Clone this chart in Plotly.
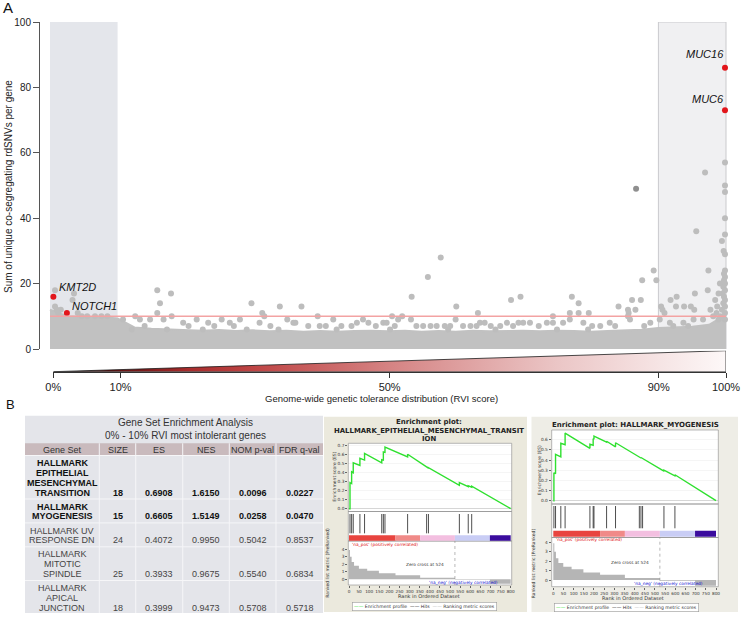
import plotly.graph_objects as go

W, H = 745, 618
BASE = "Liberation Sans, Arial, Helvetica, sans-serif"
JAVA = "DejaVu Sans, Verdana, sans-serif"

# ---------------- Panel A data ----------------
band_rvi = [0, 2.5, 5, 7.5, 10, 12.5, 15, 17.5, 20, 22.5, 25, 27.5, 30, 32.5, 35, 37.5, 40,
            42.5, 45, 47.5, 50, 52.5, 55, 57.5, 60, 62.5, 65, 67.5, 70, 72.5, 75, 77.5, 80,
            82.5, 85, 87.5, 90, 92.5, 95, 97.5, 100]
band_top = [12, 10, 9.8, 9.8, 9.3, 6.6, 6.2, 6.0, 5.9, 5.6, 5.8, 5.5, 5.7, 5.4, 5.6, 5.3, 5.5,
            5.3, 5.5, 5.6, 5.4, 5.6, 5.3, 5.5, 5.3, 5.6, 5.4, 5.5, 5.6, 5.4, 5.6, 5.5, 5.3,
            5.5, 5.7, 5.9, 6.4, 6.6, 6.8, 7.4, 10.5]

gene_rvi = [0.74, 3.55, 3.33, 0.74, 0.99, 1.6, 1.2, 4.1, 4.7, 6.66, 8.5, 5.5, 7.6,
            10.8, 12.6, 13.3, 14.8, 15.87, 17.9, 16.27, 15.87, 18.0, 16.8, 19.7, 21.7, 23.4, 25.4, 26.6, 28.1,
            29.8, 34.0, 37.2, 31.4, 31.7, 39.6, 50.6, 52.1, 53.5, 55.9, 57.8, 60.1, 60.0, 63.3, 68.2, 69.6,
            53.4, 51.5, 35.1, 41.9, 46.3,
            31.0, 36.0, 36.3, 38.2, 39.9, 44.6, 45.4, 47.1, 49.3, 49.8, 54.2, 55.2, 57.2, 59.2, 61.1, 63.1,
            63.6, 64.3, 66.6, 67.6, 68.5, 69.3, 70.0, 71.0, 73.5,
            74.4, 76.9, 77.2, 78.2, 78.2, 79.7, 84.1, 85.5, 85.6, 86.1, 86.6, 87.4, 87.6, 89.3, 89.7, 90.4,
            90.6, 90.9, 91.8, 92.6, 92.7, 93.8, 94.8, 95.3, 95.4, 95.6, 96.9, 97.3, 97.4, 97.7, 98.7, 99.4, 99.65,
            74.4, 75.9, 76.9, 78.9, 81.4, 82.8, 85.5, 85.8, 88.8, 90.2, 91.7, 93.7, 95.2, 96.6, 98.1, 98.9,
            99.85, 99.85, 99.85, 99.85, 99.85, 99.85, 99.85, 99.7, 99.85, 99.7, 99.85, 99.6, 99.85, 99.5,
            99.7, 99.85, 99.6, 99.85, 99.4, 99.85, 99.2, 99.85, 98.4, 98.9, 99.1, 98.6,
            14.0, 20.5, 24.3, 27.2, 32.6, 40.8, 43.1, 48.2, 51.0, 56.3, 58.4, 62.2, 65.2, 72.3, 80.2, 83.6,
            12.1, 17.3, 22.6, 29.1, 33.8, 42.4, 50.3, 58.9, 65.9, 75.0, 79.6, 87.9, 92.2, 94.4]
gene_count = [18, 17, 15, 13, 12, 12, 11, 11, 10, 10, 10, 10, 10,
              9, 10, 9, 9, 18, 17, 14, 11, 10, 9, 8, 9, 8, 9, 8, 9,
              14, 13, 13, 11, 10, 10, 10, 10, 16, 22, 28, 13, 9, 11, 15, 16,
              9, 9, 9, 9, 9,
              8, 8, 8, 7, 7, 7, 8, 8, 8, 8, 7, 7, 7, 7, 7, 7,
              8, 8, 7, 8, 7, 8, 8, 8, 8,
              10, 11, 16, 14, 11, 11, 13, 12, 11, 15, 12, 15, 21, 24, 21, 13,
              12, 11, 15, 13, 16, 13, 13, 12, 17, 36, 54, 18, 24, 12, 13, 33, 30,
              8, 8, 9, 8, 7, 8, 10, 9, 8, 9, 8, 8, 9, 9, 10, 9,
              57, 50, 48, 40, 35, 29, 24, 23, 22, 21, 20, 19, 18, 17,
              16, 15, 14, 13, 12, 11, 10, 9, 15, 17, 20, 11,
              7, 7, 7, 7, 7, 7, 7, 7, 7, 7, 7, 7, 7, 7, 7, 7,
              6, 6, 6, 6, 6, 6, 6, 6, 6, 6, 6, 7, 7, 7]

dark_rvi = [86.7]
dark_count = [49]

hl_genes = ["KMT2D", "NOTCH1", "MUC16", "MUC6"]
hl_rvi = [0.5, 2.5, 99.85, 99.85]
hl_count = [16, 11, 86, 73]

threshold = 10
left_zone = [0, 10]
right_zone = [90, 100]
rvi_ticks = [0, 10, 50, 90, 100]
rvi_tick_labels = ["0%", "10%", "50%", "90%", "100%"]
count_ticks = [0, 20, 40, 60, 80, 100]

# ---------------- Panel B data ----------------
tbl_title = ["Gene Set Enrichment Analysis", "0% - 10% RVI most intolerant genes"]
tbl_headers = ["Gene Set", "SIZE", "ES", "NES", "NOM p-val", "FDR q-val"]
gene_sets = ["HALLMARK<br>EPITHELIAL<br>MESENCHYMAL<br>TRANSITION", "HALLMARK<br>MYOGENESIS",
             "HALLMARK UV<br>RESPONSE DN", "HALLMARK<br>MITOTIC<br>SPINDLE", "HALLMARK<br>APICAL<br>JUNCTION"]
set_size = [18, 15, 24, 25, 18]
set_es = [0.6908, 0.6605, 0.4072, 0.3933, 0.3999]
set_nes = [1.6150, 1.5149, 0.9950, 0.9675, 0.9473]
set_nom_p = [0.0096, 0.0258, 0.5042, 0.5540, 0.5708]
set_fdr_q = [0.0227, 0.0470, 0.8537, 0.6834, 0.5718]

emt_hits = [5, 13, 21, 54, 77, 162, 170, 178, 290, 384, 393, 546, 590, 607]
emt_es_rank = [0, 5, 5, 13, 13, 21, 21, 50, 54, 54, 71, 77, 77, 158, 162, 162, 170, 170, 178, 178,
               262, 290, 290, 384, 384, 393, 393, 546, 546, 590, 590, 607, 607, 800]
emt_es = [0, 0, 0.29, 0.28, 0.41, 0.40, 0.51, 0.485, 0.48, 0.56, 0.545, 0.54, 0.615, 0.515, 0.51,
          0.545, 0.54, 0.63, 0.625, 0.685, 0.60, 0.575, 0.605, 0.455, 0.46, 0.45, 0.455, 0.26, 0.29,
          0.245, 0.255, 0.24, 0.25, 0.0]

myo_hits = [3, 11, 37, 58, 180, 196, 200, 262, 306, 423, 431, 439, 544, 598]
myo_es_rank = [0, 3, 3, 11, 11, 37, 37, 58, 58, 180, 180, 196, 196, 200, 200, 262, 262, 306, 306,
               423, 423, 431, 431, 439, 439, 544, 544, 598, 598, 800]
myo_es = [0, 0, 0.275, 0.265, 0.455, 0.43, 0.565, 0.55, 0.665, 0.515, 0.555, 0.545, 0.61, 0.605,
          0.635, 0.575, 0.585, 0.53, 0.57, 0.425, 0.43, 0.42, 0.425, 0.415, 0.42, 0.29, 0.30, 0.245,
          0.255, 0.0]

metric_rank = [0, 5, 13, 25, 49, 90, 148, 230, 352, 524, 697, 800]
metric_val = [3.9, 3.0, 2.3, 1.8, 1.4, 1.15, 0.8, 0.55, 0.2, -0.07, -0.6, -0.6]
list_bands = [0, 230, 352, 524, 697, 800]
list_band_colors = ["#e8443f", "#f08a88", "#f3bfe0", "#c9cdf5", "#3b0c9e"]
zero_cross = 524
rank_ticks = list(range(0, 801, 50))


# ---------------- helpers ----------------
def dom_x(a, b):
    return [a / W, b / W]


def dom_y(top, bottom):
    return [1 - bottom / H, 1 - top / H]


def lin(p0, p1, pa, va, pb, vb):
    k = (vb - va) / (pb - pa)
    return [va + (p0 - pa) * k, va + (p1 - pa) * k]


def ann(text, x, y, size, color="#222", xanchor="center", yanchor="middle", angle=0,
        family=BASE, **kw):
    d = dict(text=text, x=x / W, y=1 - y / H, xref="paper", yref="paper", showarrow=False,
             font=dict(size=size, color=color, family=family), xanchor=xanchor,
             yanchor=yanchor, textangle=angle)
    d.update(kw)
    return d


def rect(x0, y0, x1, y1, fill, line=None, lw=0, layer="below"):
    return dict(type="rect", xref="paper", yref="paper", x0=x0 / W, x1=x1 / W,
                y0=1 - y1 / H, y1=1 - y0 / H, fillcolor=fill,
                line=dict(color=line or fill, width=lw), layer=layer)


def hline(x0, x1, y, color, width=1, layer="above"):
    return dict(type="line", xref="paper", yref="paper", x0=x0 / W, x1=x1 / W,
                y0=1 - y / H, y1=1 - y / H, line=dict(color=color, width=width), layer=layer)


def vline(x, y0, y1, color, width=1, layer="above"):
    return dict(type="line", xref="paper", yref="paper", x0=x / W, x1=x / W,
                y0=1 - y1 / H, y1=1 - y0 / H, line=dict(color=color, width=width), layer=layer)


fig = go.Figure()
shapes = []
annotations = []
layout_axes = {}

# ---------------- Panel A ----------------
layout_axes["xaxis"] = dict(domain=dom_x(40, 728), range=lin(40, 728, 50, 0, 726, 100),
                            visible=False, anchor="y", automargin=False)
layout_axes["yaxis"] = dict(domain=dom_y(22, 349), range=[0, 100], anchor="x", automargin=False,
                            showline=True, linecolor="#555", linewidth=1, ticks="outside",
                            ticklen=6, tickcolor="#555", tickvals=count_ticks,
                            tickfont=dict(size=10, color="#222", family=BASE),
                            showgrid=False, zeroline=False)

shapes.append(dict(type="rect", xref="x", yref="y", x0=left_zone[0], x1=left_zone[1], y0=0, y1=100,
                   fillcolor="#e4e6eb", line=dict(width=0), layer="below"))
shapes.append(dict(type="rect", xref="x", yref="y", x0=right_zone[0], x1=right_zone[1], y0=0, y1=100,
                   fillcolor="#f0f0f2", line=dict(color="#cacacd", width=1), layer="below"))

fig.add_trace(go.Scatter(x=band_rvi, y=band_top, mode="lines", xaxis="x", yaxis="y",
                         line=dict(color="#c1c1c1", width=2), fill="tozeroy", fillcolor="#c1c1c1",
                         hoverinfo="skip", showlegend=False, cliponaxis=False))
fig.add_trace(go.Scatter(x=gene_rvi, y=gene_count, mode="markers", xaxis="x", yaxis="y",
                         marker=dict(size=6, color="#bdbdbd", line=dict(width=0)),
                         showlegend=False, cliponaxis=False))
fig.add_trace(go.Scatter(x=dark_rvi, y=dark_count, mode="markers", xaxis="x", yaxis="y",
                         marker=dict(size=6, color="#8f8f8f", line=dict(width=0)),
                         showlegend=False, cliponaxis=False))
fig.add_trace(go.Scatter(x=hl_rvi, y=hl_count, mode="markers", xaxis="x", yaxis="y",
                         marker=dict(size=6, color="#e2161b", line=dict(width=0)),
                         showlegend=False, cliponaxis=False))

shapes.append(dict(type="line", xref="x", yref="y", x0=0, x1=100, y0=threshold, y1=threshold,
                   line=dict(color="#f3a3a3", width=1.5), layer="above"))

label_style = {"KMT2D": ("left", 4, 9.5), "NOTCH1": ("left", 3, 7),
               "MUC16": ("right", 1, 14), "MUC6": ("right", 1, 11.5)}
for g, xv, yv in zip(hl_genes, hl_rvi, hl_count):
    anc, dx, dy = label_style[g]
    annotations.append(dict(text="<i>%s</i>" % g, x=xv, y=yv, xref="x", yref="y",
                            showarrow=False, xanchor=anc, yanchor="middle", xshift=dx, yshift=dy,
                            font=dict(size=11, color="#111", family=BASE)))

# gradient wedge + RVI scale
layout_axes["xaxis2"] = dict(domain=dom_x(53.3, 726), range=[0, 100], anchor="y2", automargin=False,
                             showline=True, linecolor="#333", linewidth=1, ticks="outside",
                             ticklen=5, tickcolor="#333", tickvals=rvi_ticks,
                             ticktext=rvi_tick_labels,
                             tickfont=dict(size=11, color="#222", family=BASE),
                             showgrid=False, zeroline=False)
layout_axes["yaxis2"] = dict(domain=dom_y(350.7, 371.7), range=[0, 1], anchor="x2", visible=False,
                             automargin=False)
r0, r1 = rvi_ticks[0], rvi_ticks[-1]
fig.add_trace(go.Scatter(x=[r0, r1, r1, r0], y=[0, 1, 0, 0], xaxis="x2", yaxis="y2", mode="lines",
                         fill="toself",
                         fillgradient=dict(type="horizontal",
                                           colorscale=[[0, "#000000"], [0.08, "#5c0e0e"],
                                                       [0.2, "#a82c2c"], [0.3, "#bf4545"],
                                                       [0.5, "#d58383"], [0.75, "#ebc6c6"],
                                                       [1, "#fdf8f8"]]),
                         line=dict(color="#1a1a1a", width=0.8), hoverinfo="skip",
                         showlegend=False, cliponaxis=False))

annotations.append(ann("Genome-wide genetic tolerance distribution (RVI score)", 381, 398, 9.5))
annotations.append(ann("Sum of unique co-segregating rdSNVs per gene", 8, 187, 10, angle=-90))
annotations.append(ann("A", 8, 8, 15, color="#111"))
annotations.append(ann("B", 10, 404, 13, color="#111"))

# ---------------- Panel B: table ----------------
cols_x = [25, 99.3, 135.7, 182.7, 229.3, 276, 323]
tbl_top, head_top, head_bot, tbl_bot = 415.7, 443.3, 455.5, 613
shapes.append(rect(cols_x[0], tbl_top, cols_x[-1], tbl_bot, "#e4e5ea"))
shapes.append(rect(cols_x[0], head_top, cols_x[-1], head_bot, "#c9babd"))
annotations.append(ann(tbl_title[0], 185, 422.6, 10, color="#333"))
annotations.append(ann(tbl_title[1], 185, 435.6, 10, color="#333"))
centers = [(cols_x[i] + cols_x[i + 1]) / 2 for i in range(len(cols_x) - 1)]
for c, htxt in zip(centers, tbl_headers):
    annotations.append(ann(htxt, c, 449.6, 9, color="#333"))
for xb in cols_x[1:-1]:
    shapes.append(vline(xb, head_top, tbl_bot, "#f6f6f8", 1, layer="below"))
shapes.append(hline(cols_x[0], cols_x[-1], head_bot, "#f6f6f8", 1, layer="below"))

row_top = head_bot
for i, gs in enumerate(gene_sets):
    lines = gs.split("<br>")
    n = len(lines)
    bold = set_fdr_q[i] < 0.25 and set_nom_p[i] < 0.05
    col = "#111" if bold else "#444"
    wrap = (lambda s: "<b>%s</b>" % s) if bold else (lambda s: s)
    for j, ln in enumerate(lines):
        annotations.append(ann(wrap(ln), centers[0], row_top + 7.6 + 9.8 * j, 9, color=col))
    yv = row_top + 7.6 + 9.8 * (n - 1)
    vals = [str(set_size[i]), "%.4f" % set_es[i], "%.4f" % set_nes[i],
            "%.4f" % set_nom_p[i], "%.4f" % set_fdr_q[i]]
    for c, v in zip(centers[1:], vals):
        annotations.append(ann(wrap(v), c, yv, 9, color=col))
    row_top = row_top + 9.8 * n + 4.3
    if i < len(gene_sets) - 1:
        shapes.append(hline(cols_x[0], cols_x[-1], row_top, "#f6f6f8", 1, layer="below"))


# ---------------- Panel B: enrichment plots ----------------
def gsea_panel(ax, ay_es, ay_hit, ay_met, geo, hits, es_rank, es_vals, title_lines):
    xn, yes, yhit, ymet = ax.replace("x", "xaxis"), "yaxis" + ay_es[1:], "yaxis" + ay_hit[1:], "yaxis" + ay_met[1:]
    shapes.append(rect(*geo["bg"], geo["bgcol"]))
    shapes.append(rect(*geo["white"], "#ffffff"))
    x0p, x1p = geo["xdom"]
    layout_axes[xn] = dict(domain=dom_x(x0p, x1p), range=lin(x0p, x1p, *geo["xmap"]), anchor=ay_met,
                           automargin=False,
                           tickvals=rank_ticks, tickangle=0, ticks="outside", ticklen=2,
                           tickcolor="#666", tickfont=dict(size=4.2, color="#333", family=JAVA),
                           showgrid=False, zeroline=False, showline=False)
    et, eb = geo["esdom"]
    es_ticks = [round(0.1 * k, 1) for k in range(0, geo["esmax"] + 1)]
    layout_axes[yes] = dict(domain=dom_y(et, eb), range=lin(eb, et, *geo["esmap"]), anchor=ax,
                            automargin=False,
                            tickvals=es_ticks, ticktext=["%.1f" % t for t in es_ticks],
                            ticks="outside", ticklen=2, tickcolor="#666",
                            tickfont=dict(size=4.3, color="#333", family=JAVA),
                            showgrid=True, gridcolor="#ececec", gridwidth=0.5,
                            zeroline=True, zerolinecolor="#bbbbbb", zerolinewidth=0.6)
    ht, hb = geo["hitdom"]
    layout_axes[yhit] = dict(domain=dom_y(ht, hb), range=[0, 1], anchor=ax, visible=False,
                             automargin=False)
    mt, mb = geo["metdom"]
    layout_axes[ymet] = dict(domain=dom_y(mt, mb), range=lin(mb, mt, *geo["metmap"]), anchor=ax,
                             automargin=False,
                             tickvals=[0, 1, 2, 3, 4], ticks="outside", ticklen=2, tickcolor="#666",
                             tickfont=dict(size=4.3, color="#333", family=JAVA),
                             showgrid=False, zeroline=False)
    for ya in (ay_es, ay_hit, ay_met):
        shapes.append(dict(type="rect", xref=ax + " domain", yref=ya + " domain", x0=0, x1=1,
                           y0=0, y1=1, line=dict(color="#8a8a8a", width=0.6), layer="above"))
    fig.add_trace(go.Scatter(x=es_rank, y=es_vals, xaxis=ax, yaxis=ay_es, mode="lines",
                             line=dict(color="#2fe02f", width=1.4), showlegend=False,
                             hoverinfo="skip"))
    hx, hy = [], []
    lo, hi = geo["hitspan"]
    for r in hits:
        hx += [r, r, None]
        hy += [lo, hi, None]
    fig.add_trace(go.Scatter(x=hx, y=hy, xaxis=ax, yaxis=ay_hit, mode="lines",
                             line=dict(color="#222", width=0.8), showlegend=False, hoverinfo="skip"))
    cb0, cb1 = geo["cbspan"]
    for k in range(len(list_band_colors)):
        shapes.append(dict(type="rect", xref=ax, yref=ay_hit, x0=list_bands[k], x1=list_bands[k + 1],
                           y0=cb0, y1=cb1, fillcolor=list_band_colors[k], line=dict(width=0),
                           layer="above"))
    fig.add_trace(go.Scatter(x=metric_rank, y=metric_val, xaxis=ax, yaxis=ay_met, mode="lines",
                             line=dict(color="#b5b5b5", width=0, shape="hv"), fill="tozeroy",
                             fillcolor="#b5b5b5", showlegend=False, hoverinfo="skip"))
    shapes.append(dict(type="line", xref=ax, yref=ay_met + " domain", x0=zero_cross, x1=zero_cross,
                       y0=0, y1=1, line=dict(color="#888", width=0.6, dash="dot"), layer="above"))
    for (txt, x, y, sz) in title_lines:
        annotations.append(ann("<b>%s</b>" % txt, x, y, sz, color="#222", family=JAVA))
    annotations.append(ann("Zero cross at %d" % zero_cross, *geo["zc_txt"], 4.3, color="#333", family=JAVA))
    annotations.append(ann("'na_pos' (positively correlated)", *geo["pos_txt"], 4.3, color="#e01010",
                           family=JAVA, xanchor="left"))
    annotations.append(ann("'na_neg' (negatively correlated)", *geo["neg_txt"], 4.3, color="#1010d0",
                           family=JAVA))
    annotations.append(ann("Enrichment score (ES)", *geo["es_lab"], 4.5, color="#333", angle=-90, family=JAVA))
    annotations.append(ann("Ranked list metric (PreRanked)", *geo["met_lab"], 4.5, color="#333", angle=-90,
                           family=JAVA))
    annotations.append(ann("Rank in Ordered Dataset", *geo["rank_lab"], 5, color="#333", family=JAVA))
    annotations.append(ann("<span style='color:#2fe02f'>——</span> Enrichment profile  "
                           "<span style='color:#222'>——</span> Hits  "
                           "<span style='color:#bbbbbb'>——</span> Ranking metric scores",
                           *geo["leg"], 4.6, color="#333", family=JAVA,
                           bgcolor="#ffffff", bordercolor="#999", borderwidth=0.6, borderpad=1.5))


emt_geo = dict(bg=(324, 416.7, 527, 612), bgcol="#ebe9dd", white=(348.3, 443.3, 511.7, 585),
               xdom=(348.3, 511.7), xmap=(349, 0, 510.7, 800),
               esdom=(443.3, 511.5), esmap=(508.7, 0, 445.7, 0.7), esmax=7,
               hitdom=(511.5, 541), hitspan=(0.26, 0.915), cbspan=(0.01, 0.193),
               metdom=(541, 585), metmap=(579.3, 0, 549.3, 4),
               zc_txt=(425, 564), pos_txt=(350, 544.5), neg_txt=(463, 583),
               es_lab=(335, 476.7), met_lab=(326.7, 563), rank_lab=(429.5, 596),
               leg=(424.5, 606.6))
myo_geo = dict(bg=(531.5, 416.7, 738, 612), bgcol="#eeede6", white=(551.7, 430, 718.3, 586.7),
               xdom=(551.7, 718.3), xmap=(553.3, 0, 716, 800),
               esdom=(430, 504), esmap=(500.7, 0, 439.7, 0.6), esmax=6,
               hitdom=(504, 537.5), hitspan=(0.275, 0.94), cbspan=(0.024, 0.203),
               metdom=(537.5, 586.7), metmap=(580, 0, 542.3, 4),
               zc_txt=(630, 562.3), pos_txt=(554, 539.6), neg_txt=(668.8, 584),
               es_lab=(539.3, 470), met_lab=(533.3, 563), rank_lab=(633.3, 598),
               leg=(626.7, 607))

gsea_panel("x3", "y3", "y4", "y5", emt_geo, emt_hits, emt_es_rank, emt_es,
           [("Enrichment plot:", 429.3, 422.3, 7),
            ("HALLMARK_EPITHELIAL_MESENCHYMAL_TRANSIT", 429, 430.5, 6.9),
            ("ION", 429, 438.6, 6.9)])
gsea_panel("x4", "y6", "y7", "y8", myo_geo, myo_hits, myo_es_rank, myo_es,
           [("Enrichment plot: HALLMARK_MYOGENESIS", 635, 424.7, 7)])

fig.update_layout(template="none", width=W, height=H, autosize=False,
                  margin=dict(l=0, r=0, t=0, b=0, pad=0),
                  paper_bgcolor="white", plot_bgcolor="rgba(0,0,0,0)",
                  font=dict(family=BASE, color="#222"), showlegend=False, hovermode=False,
                  shapes=shapes, annotations=annotations, **layout_axes)

fig.write_html("out.html", config={"displayModeBar": False, "staticPlot": True},
               post_script="document.body.style.margin='0';document.body.style.padding='0';"
                           "document.body.style.overflow='hidden';")
